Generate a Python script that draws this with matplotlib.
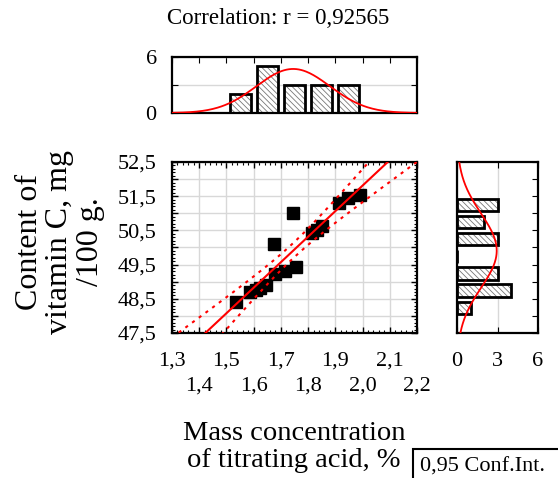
import numpy as np
import matplotlib
matplotlib.use("Agg")
import matplotlib.pyplot as plt
from matplotlib.patches import Rectangle
from matplotlib.ticker import MultipleLocator

plt.rcParams['font.family'] = ['Liberation Serif', 'DejaVu Serif']
plt.rcParams['hatch.linewidth'] = 0.6

# data
acid = [1.535, 1.587, 1.610, 1.625, 1.645, 1.679, 1.676, 1.715,
        1.746, 1.756, 1.815, 1.832, 1.852, 1.912, 1.948, 1.989]
vit_c = [48.41, 48.71, 48.75, 48.82, 48.90, 49.22, 50.10, 49.32,
         51.00, 49.42, 50.42, 50.52, 50.64, 51.31, 51.44, 51.54]

acid_bins = [1.55, 1.65, 1.75, 1.85, 1.95]
acid_counts = [2, 5, 3, 3, 3]
vit_bins = [48.24, 48.74, 49.24, 49.74, 50.24, 50.74, 51.24]
vit_counts = [1, 4, 3, 0, 3, 2, 3]

x_ticks = [1.3, 1.4, 1.5, 1.6, 1.7, 1.8, 1.9, 2.0, 2.1, 2.2]
y_ticks = [47.5, 48.5, 49.5, 50.5, 51.5, 52.5]

title = "Correlation: r = 0,92565"
xlabel = "Mass concentration\nof titrating acid, %"
ylabel = "Content of\nvitamin C, mg\n/100 g."
conf_label = "0,95 Conf.Int."

x = np.array(acid)
y = np.array(vit_c)
n = len(x)

W, H = 558, 478
fig = plt.figure(figsize=(W / 100, H / 100), dpi=100)


def px_axes(l, t, r, b):
    return fig.add_axes([l / W, 1 - b / H, (r - l) / W, (b - t) / H])


ax = px_axes(172, 162, 417, 333)
ax_top = px_axes(172, 57, 417, 113)
ax_right = px_axes(457, 162, 538, 333)

grid_kw = dict(color="#d8d8d8", linewidth=1.0, zorder=0)
tick_fs = 16

# ---- main scatter ----
xs = np.linspace(1.3, 2.2, 200)
slope, icpt = np.polyfit(x, y, 1)
fit = icpt + slope * xs
resid = y - (icpt + slope * x)
s = np.sqrt(np.sum(resid ** 2) / (n - 2))
sxx = np.sum((x - x.mean()) ** 2)
tval = 2.145
band = tval * s * np.sqrt(1 / n + (xs - x.mean()) ** 2 / sxx)

ax.plot(x, y, "s", color="black", markersize=9, zorder=3)
ax.plot(xs, fit, color="red", linewidth=1.5, zorder=4)
ax.plot(xs, fit + band, color="red", linewidth=1.5, linestyle=(0, (1.5, 2.5)), zorder=4)
ax.plot(xs, fit - band, color="red", linewidth=1.5, linestyle=(0, (1.5, 2.5)), zorder=4)

ax.set_xlim(1.3, 2.2)
ax.set_ylim(47.5, 52.5)
ax.set_xticks(x_ticks)
ax.set_xticklabels([("" if i % 2 == 0 else "\n") + f"{v:.1f}".replace(".", ",")
                    for i, v in enumerate(x_ticks)])
for lab in ax.get_xticklabels():
    lab.set_linespacing(1.45)
ax.xaxis.set_minor_locator(MultipleLocator(0.02))
ax.yaxis.set_major_locator(MultipleLocator(0.5))
ax.set_yticklabels([f"{v:.1f}".replace(".", ",") if v in y_ticks else ""
                    for v in ax.get_yticks()])
ax.yaxis.set_minor_locator(MultipleLocator(0.1))
ax.grid(True, which="major", **grid_kw)
ax.set_axisbelow(True)
ax.tick_params(which="both", direction="in", top=True, right=True, labelsize=tick_fs, colors="black")
ax.tick_params(which="major", length=4, width=1)
ax.tick_params(which="minor", length=2, width=0.8)
ax.tick_params(axis="x", pad=13)
ax.tick_params(axis="y", pad=11)

# ---- top histogram ----
ax_top.bar(acid_bins, acid_counts, width=0.077, color="white", edgecolor="#777777",
           hatch="\\\\\\\\\\\\", linewidth=0, zorder=2)
ax_top.bar(acid_bins, acid_counts, width=0.077, fill=False, edgecolor="black",
           linewidth=2, zorder=3)
mu, sd = x.mean(), x.std(ddof=1)
ax_top.plot(xs, n * 0.1 * np.exp(-0.5 * ((xs - mu) / sd) ** 2) / (sd * np.sqrt(2 * np.pi)),
            color="red", linewidth=1.3, zorder=4)
ax_top.set_xlim(1.3, 2.2)
ax_top.set_ylim(0, 6)
ax_top.set_xticks(x_ticks)
ax_top.set_xticklabels([])
ax_top.set_yticks([0, 3, 6])
ax_top.set_yticklabels(["0", "", "6"])
ax_top.grid(True, axis="y", **grid_kw)
ax_top.set_axisbelow(True)
ax_top.tick_params(direction="in", top=True, bottom=False, right=True, length=4, labelsize=tick_fs)
ax_top.tick_params(axis="y", pad=11)

# ---- right histogram ----
ax_right.barh(vit_bins, vit_counts, height=0.36, color="white", edgecolor="#777777",
              hatch="\\\\\\\\\\\\", linewidth=0, zorder=2)
ax_right.barh(vit_bins, vit_counts, height=0.36, fill=False, edgecolor="black",
              linewidth=2, zorder=3)
ys = np.linspace(47.5, 52.5, 200)
mu_y, sd_y = y.mean(), y.std(ddof=1)
ax_right.plot(n * 0.5 * np.exp(-0.5 * ((ys - mu_y) / sd_y) ** 2) / (sd_y * np.sqrt(2 * np.pi)), ys,
              color="red", linewidth=1.3, zorder=4)
ax_right.set_xlim(0, 6)
ax_right.set_ylim(47.5, 52.5)
ax_right.set_xticks([0, 3, 6])
ax_right.yaxis.set_major_locator(MultipleLocator(0.5))
ax_right.set_yticklabels([])
ax_right.grid(True, axis="x", **grid_kw)
ax_right.set_axisbelow(True)
ax_right.tick_params(direction="in", top=True, right=True, left=False, length=4, labelsize=tick_fs)
ax_right.tick_params(axis="x", pad=14)

for a in (ax, ax_top, ax_right):
    for sp in a.spines.values():
        sp.set_linewidth(1.6)

fig.text(278 / W, 1 - 19 / H, title, ha="center", va="center", fontsize=16.5)
fig.text(294 / W, 1 - 447 / H, xlabel, ha="center", va="center", fontsize=20.5, linespacing=1.08)
fig.text(60 / W, 1 - 242 / H, ylabel, ha="center", va="center", rotation=90,
         fontsize=23, linespacing=1.06)

# legend box, cut off by the figure edge as in the reference
fig.patches.append(Rectangle((413 / W, -0.05), 0.5, (478 - 449) / H + 0.05,
                             transform=fig.transFigure, facecolor="white",
                             edgecolor="black", linewidth=1.5))
fig.text(420 / W, 1 - 467 / H, conf_label, ha="left", va="center", fontsize=16)

fig.savefig("out.png", dpi=100)
